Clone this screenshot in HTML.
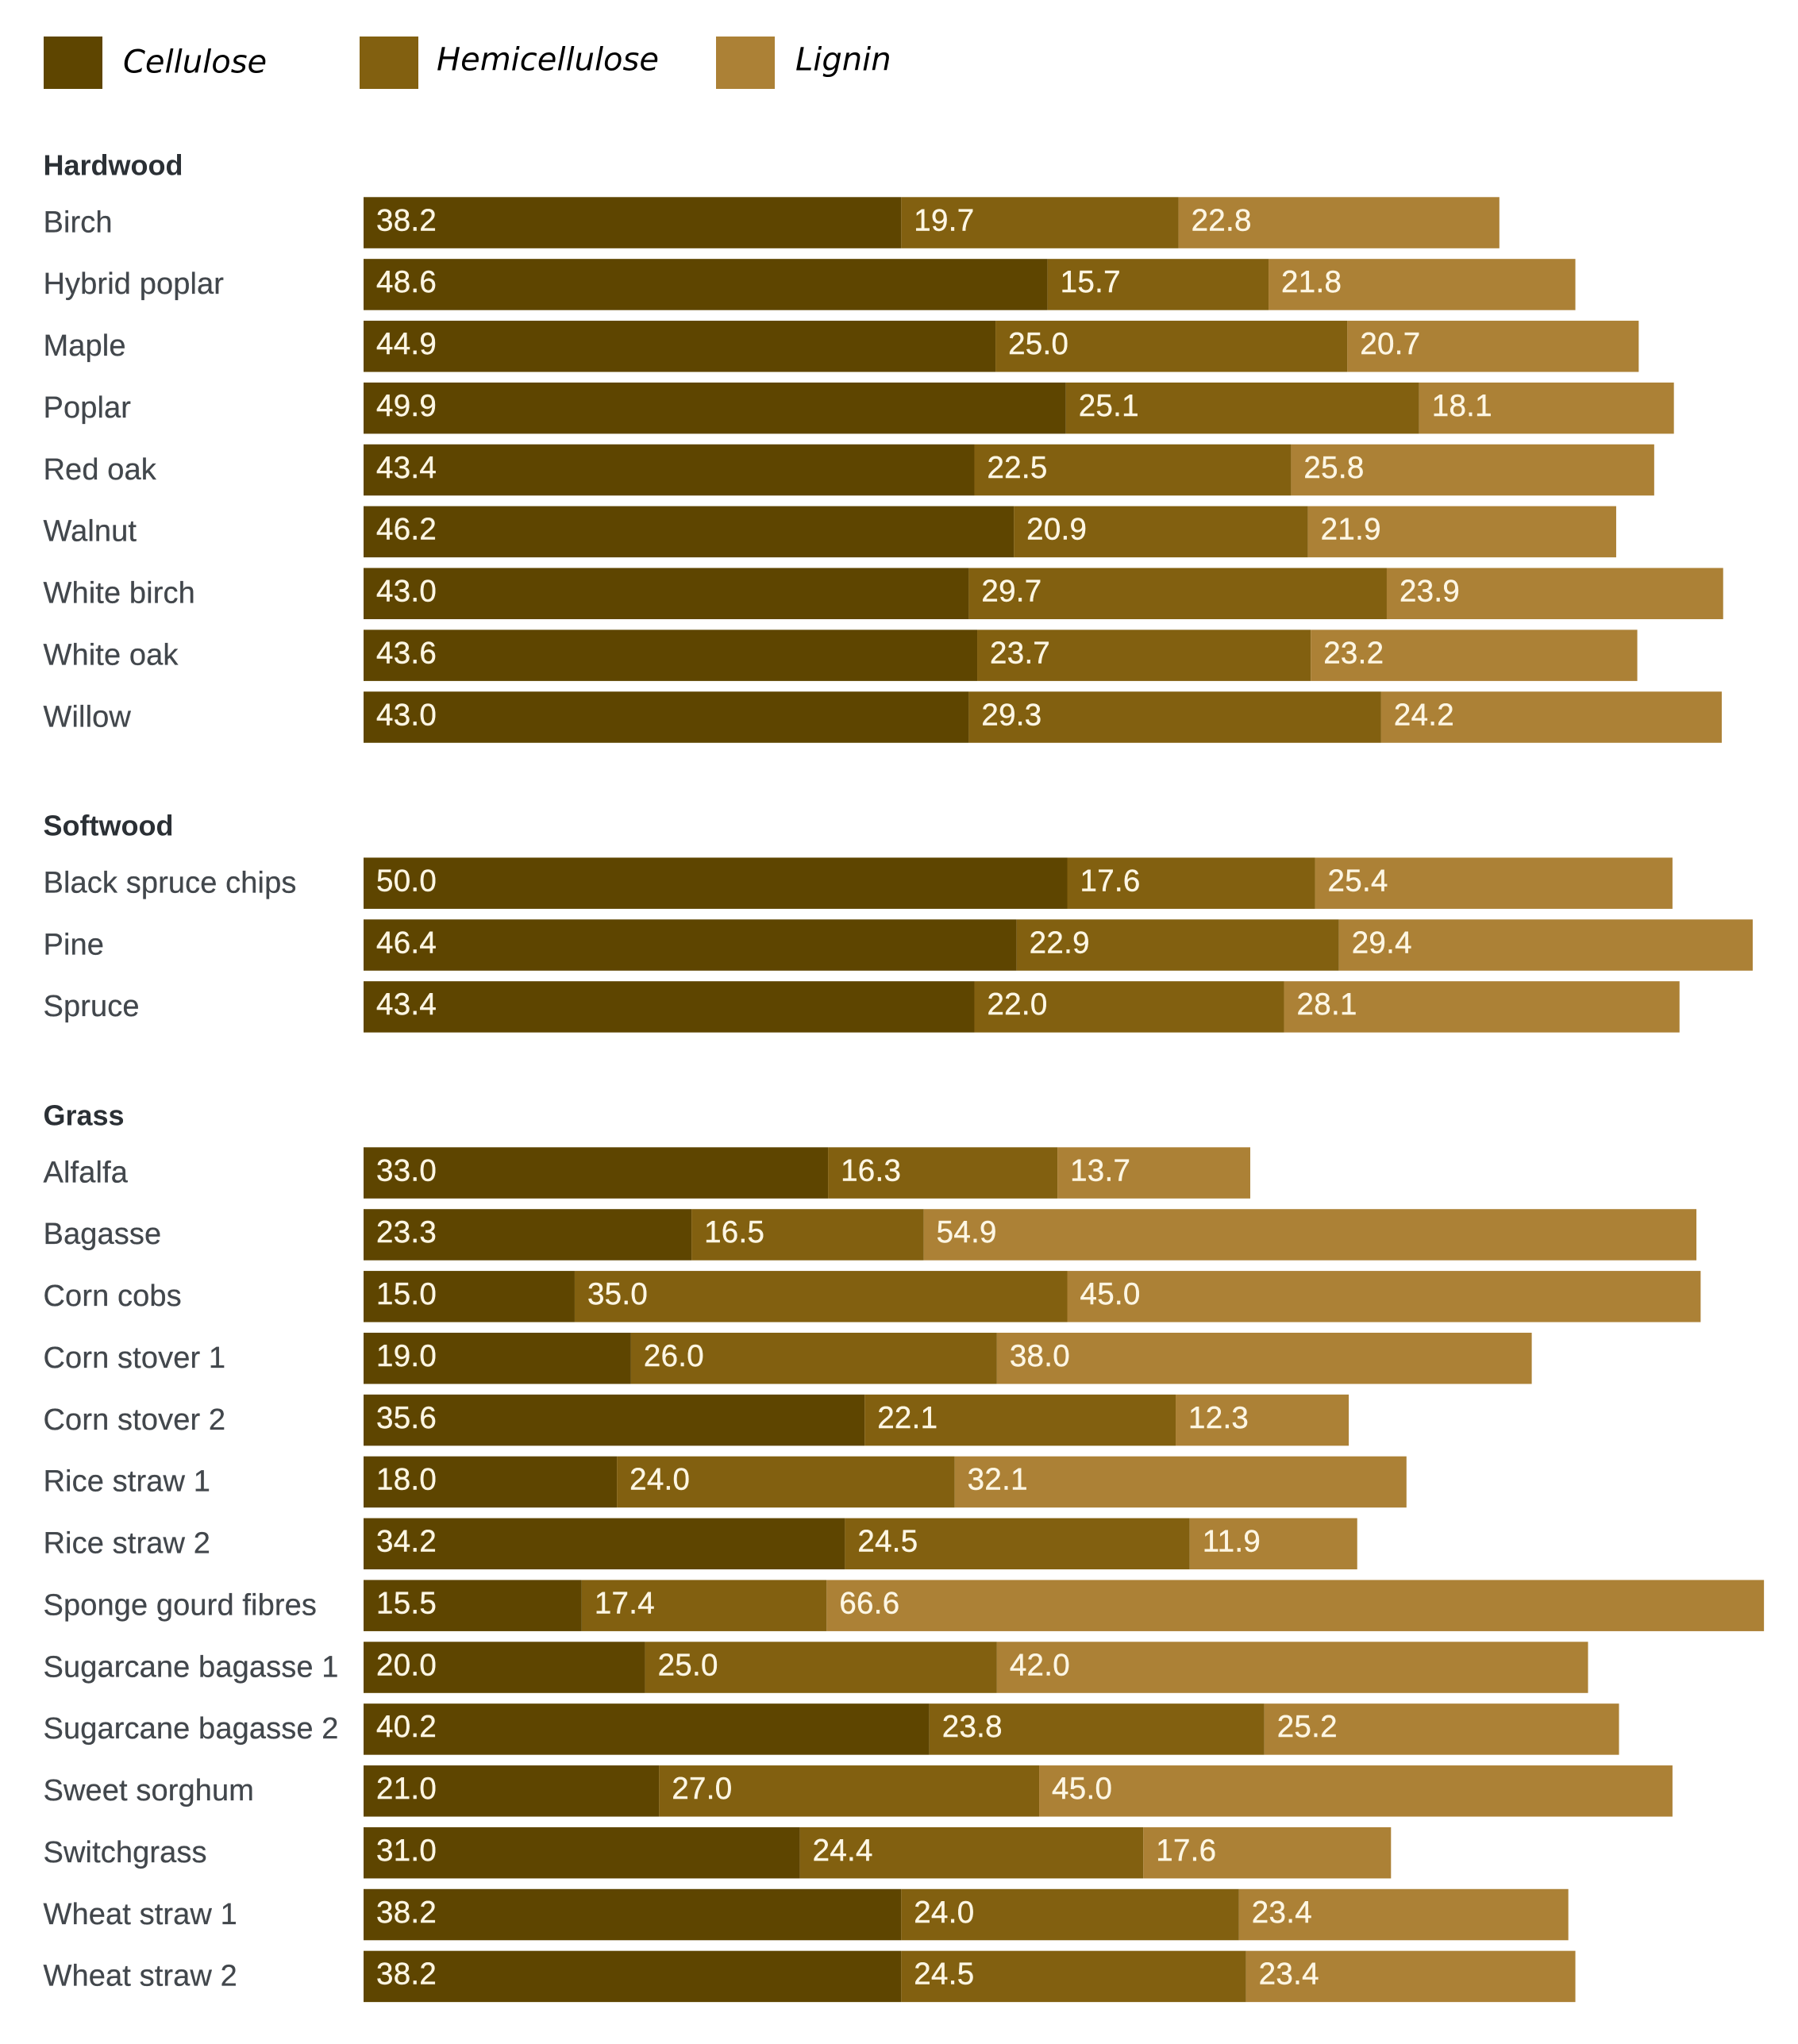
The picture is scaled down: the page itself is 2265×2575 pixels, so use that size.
<!DOCTYPE html>
<html lang="en">
<head>
<meta charset="utf-8">
<title>Lignocellulosic composition of biomass</title>
<style>
  html, body { margin: 0; padding: 0; background: #ffffff; }
  body { width: 2265px; height: 2575px; overflow: hidden; }
  svg { display: block; }
  .legend-text { font-family: "DejaVu Sans", sans-serif; font-style: italic; font-size: 40px; fill: #000000; }
  .group-title { font-family: "Liberation Sans", sans-serif; font-weight: 700; font-size: 36px; fill: #2b3035; }
  .row-label { font-family: "Liberation Sans", sans-serif; font-size: 38px; letter-spacing: 0.12px; fill: #42474c; stroke: #42474c; stroke-width: 0.25px; }
  .value-label { font-family: "Liberation Sans", sans-serif; font-size: 38.5px; letter-spacing: 0.3px; fill: #fdf6e3; stroke: #fdf6e3; stroke-width: 0.4px; }
</style>
</head>
<body>
<svg id="chart" xmlns="http://www.w3.org/2000/svg" width="2265" height="2575" viewBox="0 0 2265 2575">
  <g>
    <g>
      <rect x="55" y="46" width="74" height="66" fill="#5e4500"></rect>
      <text class="legend-text" x="155" y="91.5">Cellulose</text>
    </g>
    <g>
      <rect x="453" y="46" width="74" height="66" fill="#826010"></rect>
      <text class="legend-text" x="550" y="88.5">Hemicellulose</text>
    </g>
    <g>
      <rect x="902" y="46" width="74" height="66" fill="#ac8136"></rect>
      <text class="legend-text" x="1002" y="88.5">Lignin</text>
    </g>
  </g>
  <g id="plot"></g>
</svg>
<script>
const groupTitles = ["Hardwood", "Softwood", "Grass"];

const hardwoodNames = ["Birch", "Hybrid poplar", "Maple", "Poplar", "Red oak", "Walnut", "White birch", "White oak", "Willow"];
const hardwoodCellulose = [38.2, 48.6, 44.9, 49.9, 43.4, 46.2, 43.0, 43.6, 43.0];
const hardwoodHemicellulose = [19.7, 15.7, 25.0, 25.1, 22.5, 20.9, 29.7, 23.7, 29.3];
const hardwoodLignin = [22.8, 21.8, 20.7, 18.1, 25.8, 21.9, 23.9, 23.2, 24.2];

const softwoodNames = ["Black spruce chips", "Pine", "Spruce"];
const softwoodCellulose = [50.0, 46.4, 43.4];
const softwoodHemicellulose = [17.6, 22.9, 22.0];
const softwoodLignin = [25.4, 29.4, 28.1];

const grassNames = ["Alfalfa", "Bagasse", "Corn cobs", "Corn stover 1", "Corn stover 2", "Rice straw 1", "Rice straw 2", "Sponge gourd fibres", "Sugarcane bagasse 1", "Sugarcane bagasse 2", "Sweet sorghum", "Switchgrass", "Wheat straw 1", "Wheat straw 2"];
const grassCellulose = [33.0, 23.3, 15.0, 19.0, 35.6, 18.0, 34.2, 15.5, 20.0, 40.2, 21.0, 31.0, 38.2, 38.2];
const grassHemicellulose = [16.3, 16.5, 35.0, 26.0, 22.1, 24.0, 24.5, 17.4, 25.0, 23.8, 27.0, 24.4, 24.0, 24.5];
const grassLignin = [13.7, 54.9, 45.0, 38.0, 12.3, 32.1, 11.9, 66.6, 42.0, 25.2, 45.0, 17.6, 23.4, 23.4];

const NS = "http://www.w3.org/2000/svg";
const plot = document.getElementById("plot");

const AXIS_LEFT = 458;
const UNITS_TO_PX = 17.73;
const ROW_PITCH = 77.87;
const BAR_HEIGHT = 64.5;
const GROUP_GAP = 131.3;
const FIRST_TOP = 248.3;
const LABEL_X = 54.5;
const SERIES_COLORS = ["#5e4500", "#826010", "#ac8136"];
const SERIES_KEYS = ["cellulose", "hemicellulose", "lignin"];

function xScale(v) { return AXIS_LEFT + v * UNITS_TO_PX; }

function drawGroup(title, names, cellulose, hemicellulose, lignin, top) {
  const group = document.createElementNS(NS, "g");
  
  
  plot.appendChild(group);

  const heading = document.createElementNS(NS, "text");
  heading.setAttribute("class", "group-title");
  heading.setAttribute("x", LABEL_X);
  heading.setAttribute("y", top - 28);
  heading.textContent = title;
  
  
  group.appendChild(heading);

  names.forEach(function (name, i) {
    const y = top + i * ROW_PITCH;
    const label = document.createElementNS(NS, "text");
    label.setAttribute("class", "row-label");
    label.setAttribute("x", LABEL_X);
    label.setAttribute("y", y + 44);
    label.textContent = name;
    
    
    group.appendChild(label);

    const series = [cellulose[i], hemicellulose[i], lignin[i]];
    let cumulative = 0;
    series.forEach(function (value, s) {
      const x0 = xScale(cumulative);
      const x1 = xScale(cumulative + value);
      const seg = document.createElementNS(NS, "rect");
      seg.setAttribute("x", x0);
      seg.setAttribute("y", y);
      seg.setAttribute("width", x1 - x0);
      seg.setAttribute("height", BAR_HEIGHT);
      seg.setAttribute("fill", SERIES_COLORS[s]);
      
      
      group.appendChild(seg);

      const text = document.createElementNS(NS, "text");
      text.setAttribute("class", "value-label");
      text.setAttribute("x", x0 + 16);
      text.setAttribute("y", y + 42);
      text.textContent = value.toFixed(1);
      
      
      group.appendChild(text);

      cumulative += value;
    });
  });
  return top + names.length * ROW_PITCH + GROUP_GAP;
}

let nextTop = FIRST_TOP;
nextTop = drawGroup(groupTitles[0], hardwoodNames, hardwoodCellulose, hardwoodHemicellulose, hardwoodLignin, nextTop);
nextTop = drawGroup(groupTitles[1], softwoodNames, softwoodCellulose, softwoodHemicellulose, softwoodLignin, nextTop);
nextTop = drawGroup(groupTitles[2], grassNames, grassCellulose, grassHemicellulose, grassLignin, nextTop);
</script>
</body>
</html>
